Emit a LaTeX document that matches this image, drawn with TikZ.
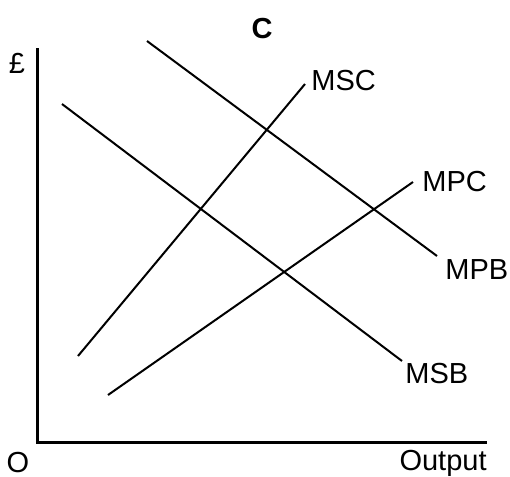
\documentclass[tikz,border=0pt]{standalone}
\usepackage{fontspec}
\setmainfont{Liberation Sans}
\begin{document}
\begin{tikzpicture}[x=0.5pt,y=-0.5pt,
    curve/.style={line width=1pt},
    lbl/.style={inner sep=0pt,font=\fontsize{14.5}{17}\selectfont}]
        \useasboundingbox (0,0) rectangle (510,477);

        % Draw the axes
        \draw[line width=1.5pt] (37.5,48) -- (37.5,442.5) -- (487,442.5);

        % Label the axes
        \node[lbl] (pound) at (17,63) {£};
        \node[lbl] (origin) at (18,463) {O};
        \node[lbl,anchor=east] (output) at (487,463) {Output};

        % Title
        \node[lbl,font=\fontsize{14.5}{17}\selectfont\bfseries] (title) at (262,29) {C};

        % Draw the cost curves
        \draw[curve] (78,356) -- (305,84);
        \node[lbl,anchor=west] (msc) at (311,81) {MSC};
        \draw[curve] (108,395) -- (413,182);
        \node[lbl,anchor=west] (mpc) at (422,182) {MPC};

        % Draw the benefit curves
        \draw[curve] (147,41) -- (437,256);
        \node[lbl,anchor=west] (mpb) at (445,270) {MPB};
        \draw[curve] (62,104) -- (402,361);
        \node[lbl,anchor=west] (msb) at (405,374) {MSB};

    \end{tikzpicture}
\end{document}
